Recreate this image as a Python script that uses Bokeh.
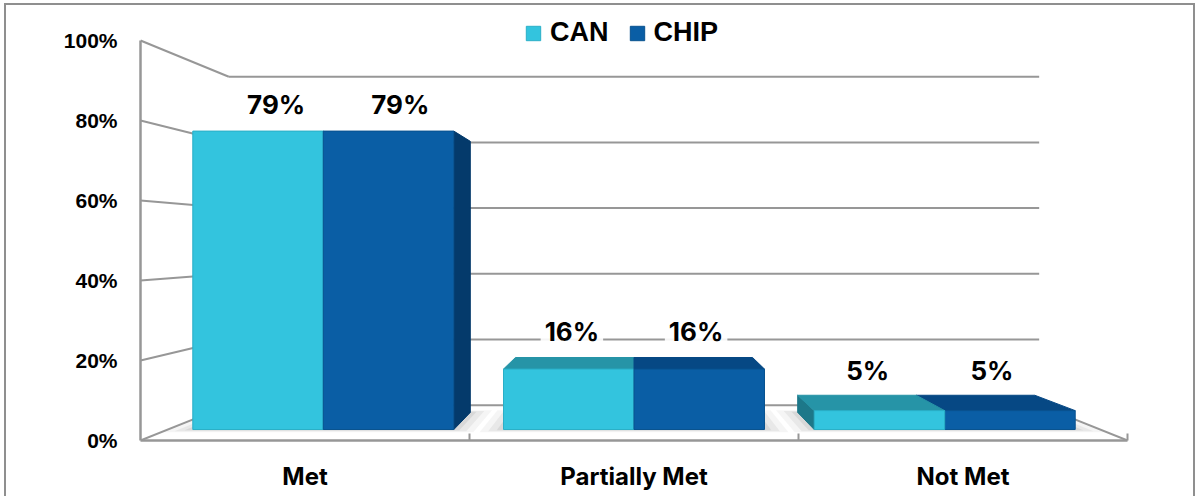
from bokeh.plotting import figure
from bokeh.models import (Range1d, FixedTicker, PrintfTickFormatter, Legend,
                          LegendItem, ColumnDataSource)
from bokeh.core.properties import value
from bokeh.embed import file_html
from bokeh.resources import INLINE

# ---- data -------------------------------------------------------------
categories = ["Met", "Partially Met", "Not Met"]
series_names = ["CAN", "CHIP"]
can_values = [79, 16, 5]
chip_values = [79, 16, 5]
y_ticks = [0, 20, 40, 60, 80, 100]

# ---- styling ----------------------------------------------------------
SERIES_COLORS = {
    "CAN": dict(front="#33C4DE", top="#2694A7", side="#1D7889", edge="#2AAFC7"),
    "CHIP": dict(front="#0A5EA5", top="#064884", side="#043A6B", edge="#08528F"),
}
GRID = "#979797"

# ---- simple perspective for the 3-D look ------------------------------
XC, YC = 1.5, 49.4      # vanishing centre (category units, percent units)
K = 0.218               # depth foreshortening
D0, D1 = 0.27, 0.76     # depth span of the columns (0 = front, 1 = back wall)
GAP = 0.08              # gap at each side of a category slot


def proj(x, y, d):
    s = 1.0 / (1.0 + K * d)
    return XC + s * (x - XC), YC + s * (y - YC)


def poly(points):
    pts = [proj(*pt) for pt in points]
    return [q[0] for q in pts], [q[1] for q in pts]


n_cat = len(categories)
p = figure(width=1196, height=496, output_backend="svg", toolbar_location=None,
           x_range=Range1d(0, n_cat * 1056 / 987), y_range=Range1d(0, 110),
           min_border_left=140, min_border_right=0, min_border_top=0,
           min_border_bottom=56)
p.grid.visible = False
p.outline_line_color = None
p.background_fill_alpha = 0
p.border_fill_alpha = 0
p.styles = {
    "background": (
        "linear-gradient(#8f8f8f,#8f8f8f) 4px 3px / 2px 100% no-repeat, "
        "linear-gradient(#8f8f8f,#8f8f8f) 4px 3px / 1191px 2px no-repeat, "
        "linear-gradient(#8f8f8f,#8f8f8f) 1193px 3px / 2px 100% no-repeat, "
        "#ffffff"
    )
}

# ---- axes -------------------------------------------------------------
ya = p.yaxis[0]
ya.ticker = FixedTicker(ticks=y_ticks)
ya.formatter = PrintfTickFormatter(format="%d%%")
ya.bounds = (0, 100)
ya.axis_line_color = GRID
ya.axis_line_width = 2.5
ya.major_tick_line_color = None
ya.minor_tick_line_color = None
ya.major_label_text_font = "Liberation Sans"
ya.major_label_text_font_size = "21px"
ya.major_label_text_font_style = "bold"
ya.major_label_text_color = "#000000"
ya.major_label_standoff = 17

xa = p.xaxis[0]
xa.ticker = FixedTicker(ticks=[i + 0.5 for i in range(n_cat)],
                        minor_ticks=[i + 1 for i in range(n_cat)])
xa.major_label_overrides = {i + 0.5: c for i, c in enumerate(categories)}
xa.bounds = (0, n_cat)
xa.axis_line_color = GRID
xa.axis_line_width = 2.5
xa.major_tick_line_color = None
xa.minor_tick_in = 7
xa.minor_tick_out = 0
xa.minor_tick_line_color = GRID
xa.minor_tick_line_width = 2
xa.major_label_text_font = "Inter"
xa.major_label_text_font_size = "24px"
xa.major_label_text_font_style = "bold"
xa.major_label_text_color = "#000000"
xa.major_label_standoff = 15

# ---- walls and floor --------------------------------------------------
wx, wy = [], []
for t in y_ticks:
    for a, b in (((0, t, 1), (n_cat, t, 1)), ((0, t, 0), (0, t, 1))):
        xs, ys = poly([a, b])
        wx.append(xs)
        wy.append(ys)
xs, ys = poly([(n_cat, 0, 0), (n_cat, 0, 1)])
wx.append(xs)
wy.append(ys)
p.multi_line(wx, wy, line_color=GRID, line_width=2)

# soft shadow on the floor around each pair of columns
for i in range(n_cat):
    for e, a in ((0.07, 0.07), (0.045, 0.09), (0.02, 0.12)):
        xs, ys = poly([(i + GAP - e, 0, D0 - e), (i + 1 - GAP + e, 0, D0 - e),
                       (i + 1 - GAP + e, 0, D1 + e), (i + GAP - e, 0, D1 + e)])
        p.patch(xs, ys, fill_color="#6e6e6e", fill_alpha=a, line_color=None)

# ---- columns ----------------------------------------------------------
bars = []
width = (1 - 2 * GAP) / 2
for i in range(n_cat):
    for j, (name, vals) in enumerate(zip(series_names, [can_values, chip_values])):
        x0 = i + GAP + j * width
        bars.append(dict(x0=x0, x1=x0 + width, h=vals[i], name=name))

legend_renderers = {}
for b in sorted(bars, key=lambda b: -abs((b["x0"] + b["x1"]) / 2 - XC)):
    x0, x1, h = b["x0"], b["x1"], b["h"]
    c = SERIES_COLORS[b["name"]]
    if x1 < XC:
        xs, ys = poly([(x1, 0, D0), (x1, 0, D1), (x1, h, D1), (x1, h, D0)])
        p.patch(xs, ys, fill_color=c["side"], line_color=c["side"], line_width=1)
    if x0 > XC:
        xs, ys = poly([(x0, 0, D0), (x0, 0, D1), (x0, h, D1), (x0, h, D0)])
        p.patch(xs, ys, fill_color=c["side"], line_color=c["side"], line_width=1)
    if h < YC:
        xs, ys = poly([(x0, h, D0), (x1, h, D0), (x1, h, D1), (x0, h, D1)])
        p.patch(xs, ys, fill_color=c["top"], line_color=c["top"], line_width=1)
    xs, ys = poly([(x0, 0, D0), (x1, 0, D0), (x1, h, D0), (x0, h, D0)])
    r = p.patch(xs, ys, fill_color=c["front"], line_color=c["edge"], line_width=1)
    legend_renderers.setdefault(b["name"], r)

# ---- value labels -----------------------------------------------------
lx, ly, lt = [], [], []
dm = (D0 + D1) / 2
for b in bars:
    x, y = proj((b["x0"] + b["x1"]) / 2, b["h"], dm)
    lx.append(x)
    ly.append(y + 8)
    lt.append(f"{b['h']}%")
p.text(x="x", y="y", text="t", source=ColumnDataSource(dict(x=lx, y=ly, t=lt)),
       text_align="center", text_baseline="middle",
       text_font=value("Inter"), text_font_style="bold", text_font_size="26px",
       text_color="#000000", background_fill_color="#ffffff",
       background_fill_alpha=0.9, padding=4)

# ---- legend -----------------------------------------------------------
legend = Legend(items=[LegendItem(label=n, renderers=[legend_renderers[n]])
                       for n in series_names],
                orientation="horizontal", location=(384, 392),
                glyph_width=18, glyph_height=18, label_standoff=8, spacing=19,
                padding=0, margin=0, border_line_color=None,
                background_fill_alpha=0,
                label_text_font="Liberation Sans", label_text_font_size="27px",
                label_text_font_style="bold", label_text_color="#000000")
p.add_layout(legend)

open("out.html", "w").write(file_html(p, INLINE))
